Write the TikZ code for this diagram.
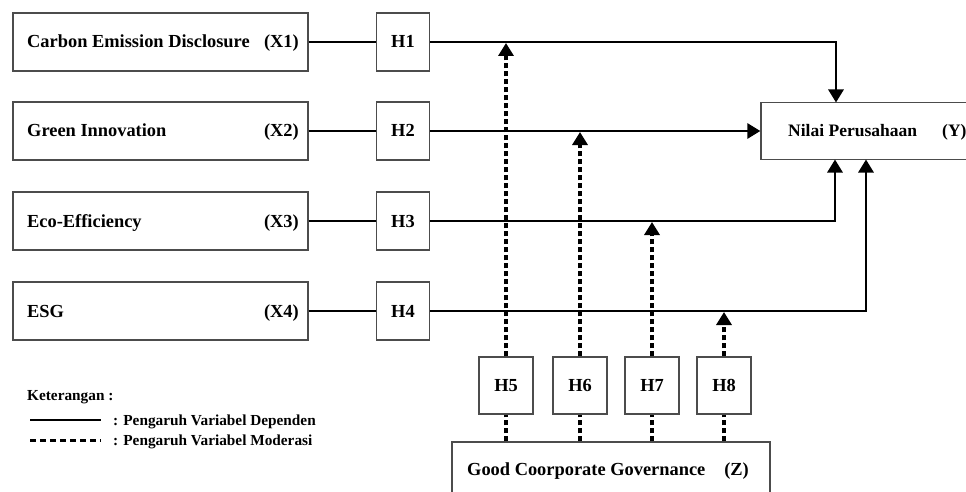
\documentclass[tikz,border=0pt]{standalone}
\usepackage{fontspec}
\setmainfont{Liberation Serif}
\usetikzlibrary{arrows.meta,calc}
\newcommand\mainfnt{\bfseries\fontsize{18.4}{21}\selectfont}
\newcommand\yfnt{\bfseries\fontsize{17.5}{20}\selectfont}
\newcommand\legfnt{\bfseries\fontsize{15.3}{17}\selectfont}
\begin{document}
\begin{tikzpicture}[x=1pt,y=-1pt,
  box/.style={draw=black!70,line width=1.3pt,minimum width=#1,minimum height=58pt,inner sep=0pt},
  hbox/.style={draw=black!70,line width=1.3pt,minimum width=53pt,minimum height=58pt,inner sep=0pt},
  hlbl/.style={inner sep=0pt,font=\mainfnt,anchor=base},
  lbl/.style={inner sep=0pt,font=\mainfnt},
  leg/.style={inner sep=0pt,font=\legfnt,anchor=base west},
  conn/.style={line width=2.9pt,black},
  moddash/.style={line width=3.6pt,black,dash pattern=on 5pt off 3pt},
  tip/.style={-{Triangle[length=13pt,width=15pt]}}
]
\useasboundingbox (0,0) rectangle (966,492);
\clip (0,0) rectangle (966,492);
\fill[white] (0,0) rectangle (966,492);

% independent variables
\node[box=295pt] (x1) at (160.5,42) {};
\node[lbl,anchor=base west] (x1t) at (27,48) {Carbon Emission Disclosure};
\node[lbl,anchor=base east] (x1c) at (299,48) {(X1)};
\node[box=295pt] (x2) at (160.5,131) {};
\node[lbl,anchor=base west] (x2t) at (27,137) {Green Innovation};
\node[lbl,anchor=base east] (x2c) at (299,137) {(X2)};
\node[box=295pt] (x3) at (160.5,221) {};
\node[lbl,anchor=base west] (x3t) at (27,227) {Eco-Efficiency};
\node[lbl,anchor=base east] (x3c) at (299,227) {(X3)};
\node[box=295pt] (x4) at (160.5,311) {};
\node[lbl,anchor=base west] (x4t) at (27,317) {ESG};
\node[lbl,anchor=base east] (x4c) at (299,317) {(X4)};

% hypotheses
\node[hbox] (h1) at (403,42) {};
\node[hlbl] (h1t) at (403,48) {H1};
\node[hbox] (h2) at (403,131) {};
\node[hlbl] (h2t) at (403,137) {H2};
\node[hbox] (h3) at (403,221) {};
\node[hlbl] (h3t) at (403,227) {H3};
\node[hbox] (h4) at (403,311) {};
\node[hlbl] (h4t) at (403,317) {H4};

% dependent
\node[draw=black!70,line width=1.3pt,minimum width=260pt,minimum height=57pt,inner sep=0pt] (y) at (891,131) {};
\node[lbl,font=\yfnt,anchor=base west] (yt) at (788,137) {Nilai Perusahaan};
\node[lbl,font=\yfnt,anchor=base west] (yc) at (942,137) {(Y)};

% moderator
\node[box=318pt] (z) at (611,471) {};
\node[lbl,anchor=base west] (zt) at (467,475) {Good Coorporate Governance};
\node[lbl,anchor=base east] (zc) at (749,475) {(Z)};

\node[hbox,minimum width=54pt,minimum height=57pt] (h5) at (506,385.5) {};
\node[hlbl] (h5t) at (506,391.5) {H5};
\node[hbox,minimum width=54pt,minimum height=57pt] (h6) at (580,385.5) {};
\node[hlbl] (h6t) at (580,391.5) {H6};
\node[hbox,minimum width=54pt,minimum height=57pt] (h7) at (652,385.5) {};
\node[hlbl] (h7t) at (652,391.5) {H7};
\node[hbox,minimum width=54pt,minimum height=57pt] (h8) at (724,385.5) {};
\node[hlbl] (h8t) at (724,391.5) {H8};

% helper coordinates
\coordinate (ytop) at (836,102.5);
\coordinate (ybot1) at (835,159.5);
\coordinate (ybot2) at (866,159.5);
\coordinate (m1) at (506,43);
\coordinate (m2) at (580,132);
\coordinate (m3) at (652,222);
\coordinate (m4) at (724,312);

% direct effects
\draw[conn] (x1.east) -- (h1.west);
\draw[conn] (x2.east) -- (h2.west);
\draw[conn] (x3.east) -- (h3.west);
\draw[conn] (x4.east) -- (h4.west);
\draw[conn,tip] (h1.east) -| (ytop);
\draw[conn,tip] (h2.east) -- (y.west |- h2.east);
\draw[conn,tip] (h3.east) -| (ybot1);
\draw[conn,tip] (h4.east) -| (ybot2);

% moderating effects
\draw[moddash] (z.north -| h5) -- (h5.south);
\draw[moddash] (z.north -| h6) -- (h6.south);
\draw[moddash] (z.north -| h7) -- (h7.south);
\draw[moddash] (z.north -| h8) -- (h8.south);
\draw[moddash,tip] (h5.north) -- (m1);
\draw[moddash,tip] (h6.north) -- (m2);
\draw[moddash,tip] (h7.north) -- (m3);
\draw[moddash,tip] (h8.north) -- (m4);

% legend
\node[leg] (k) at (27,400) {Keterangan :};
\coordinate (la1) at (30,420);
\coordinate (lb1) at (101,420);
\coordinate (la2) at (30,440);
\coordinate (lb2) at (101,440);
\draw[conn] (la1) -- (lb1);
\draw[line width=3pt,dash pattern=on 6pt off 4pt] (la2) -- (lb2);
\node[leg] (l1) at (113,425) {: Pengaruh Variabel Dependen};
\node[leg] (l2) at (113,445) {: Pengaruh Variabel Moderasi};
\end{tikzpicture}
\end{document}
